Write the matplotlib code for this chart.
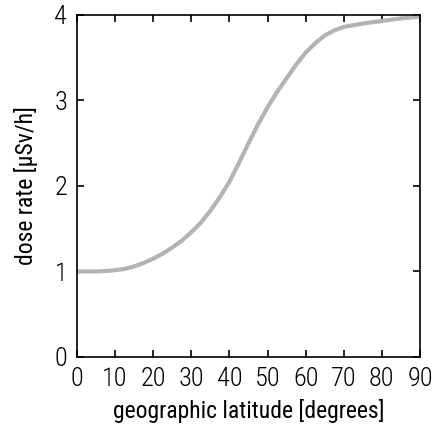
import matplotlib
matplotlib.use('Agg')
import matplotlib.pyplot as plt

# 剂量率随地理纬度变化
latitude = [0, 2.5, 5, 7.5, 10, 12.5, 15, 17.5, 20, 22.5, 25, 27.5, 30, 32.5, 35,
            37.5, 40, 42.5, 45, 47.5, 50, 52.5, 55, 57.5, 60, 62.5, 65, 67.5, 70,
            72.5, 75, 77.5, 80, 82.5, 85, 87.5, 90]
dose_rate = [1.00, 1.00, 1.00, 1.005, 1.015, 1.03, 1.06, 1.10, 1.15, 1.21, 1.28,
             1.36, 1.46, 1.57, 1.71, 1.87, 2.05, 2.27, 2.50, 2.72, 2.92, 3.10, 3.26,
             3.42, 3.56, 3.67, 3.76, 3.82, 3.86, 3.88, 3.90, 3.915, 3.93, 3.945,
             3.96, 3.97, 3.98]

x_ticks = [0, 10, 20, 30, 40, 50, 60, 70, 80, 90]
y_ticks = [0, 1, 2, 3, 4]

plt.rcParams['font.family'] = ['Roboto Condensed', 'Liberation Sans Narrow', 'DejaVu Sans']
plt.rcParams['font.stretch'] = 'condensed'
plt.rcParams['font.weight'] = 'light'

fig = plt.figure(figsize=(4.34, 4.28), dpi=100)
ax = fig.add_axes([0.1774, 0.1659, 0.7903, 0.7991])

ax.plot(latitude, dose_rate, color='#b3b3b3', linewidth=3, solid_capstyle='butt')

ax.set_xlim(0, 90)
ax.set_ylim(0, 4)
ax.set_xticks(x_ticks)
ax.set_yticks(y_ticks)
ax.tick_params(direction='in', length=5, width=1.2, top=True, right=True,
               labelsize=19, pad=7)
for sp in ax.spines.values():
    sp.set_linewidth(1.2)

ax.set_xlabel('geographic latitude [degrees]', fontsize=17, labelpad=6)
ax.set_ylabel('dose rate [µSv/h]', fontsize=17, labelpad=12)

plt.savefig('out.png', dpi=100)
